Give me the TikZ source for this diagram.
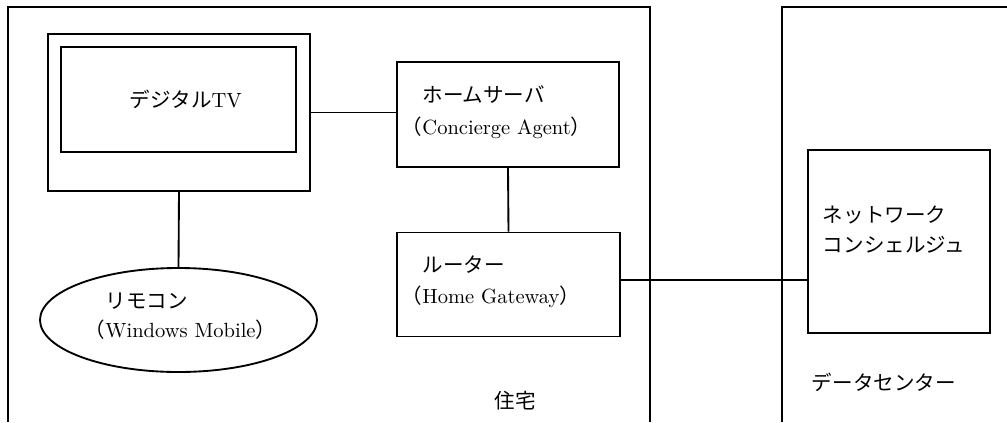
\documentclass[tikz,border=0pt]{standalone}
\usepackage{fontspec}
\setmainfont{lmroman10-regular.otf}
\newfontfamily\cjk{Noto Sans CJK JP}
\usetikzlibrary{shapes.geometric}
\begin{document}
\begin{tikzpicture}[x=0.75pt,y=-0.75pt,line width=1.4pt,
  blk/.style={draw,inner sep=0pt},
  lbl/.style={anchor=base west,inner sep=0pt,font=\fontsize{15.4pt}{18pt}\selectfont}]
\useasboundingbox (0,0) rectangle (1007,422);
% region frames
\draw (8,422) -- (8,7) -- (650,7) -- (650,422);
\draw (782,422) -- (782,7) -- (1007,7);
% blocks
\node[blk,minimum width=196.5pt,minimum height=117.75pt] (tv) at (179,112.5) {};
\node[blk,minimum width=176.25pt,minimum height=78.75pt] (screen) at (178.5,99.5) {};
\node[blk,minimum width=166.5pt,minimum height=78.75pt] (server) at (508,114.5) {};
\node[blk,minimum width=167.25pt,minimum height=78pt] (router) at (508.5,284.5) {};
\node[blk,minimum width=136.5pt,minimum height=137.25pt] (nc) at (899,241.5) {};
\node[blk,ellipse,minimum width=207.75pt,minimum height=78pt] (remote) at (178.5,320) {};
% labels
\node[lbl] (tvlabel) at (129,107) {{\cjk デジタル}TV};
\node[lbl] (srv1) at (401,102) {\cjk 　ホームサーバ};
\node[lbl] (srv2) at (401,134) {{\cjk （}Concierge Agent{\cjk ）}};
\node[lbl] (rt1) at (401,272) {\cjk 　ルーター};
\node[lbl] (rt2) at (401,303) {{\cjk （}Home Gateway{\cjk ）}};
\node[lbl] (rm1) at (84,308) {\cjk 　リモコン};
\node[lbl] (rm2) at (84,337) {{\cjk （}Windows Mobile{\cjk ）}};
\node[lbl] (nc1) at (822,222) {\cjk ネットワーク};
\node[lbl] (nc2) at (822,252) {\cjk コンシェルジュ};
\node[lbl] (dc) at (811,390) {\cjk データセンター};
\node[lbl] (home) at (494,408) {\cjk 住宅};
% connectors
\draw (tv.east) -- (tv.east -| server.west);
\draw (tv.south) -- (remote.north);
\draw (server.south) -- (router.north);
\draw ([yshift=3.4pt]router.east) -- ([yshift=3.4pt]router.east -| nc.west);
\end{tikzpicture}
\end{document}
